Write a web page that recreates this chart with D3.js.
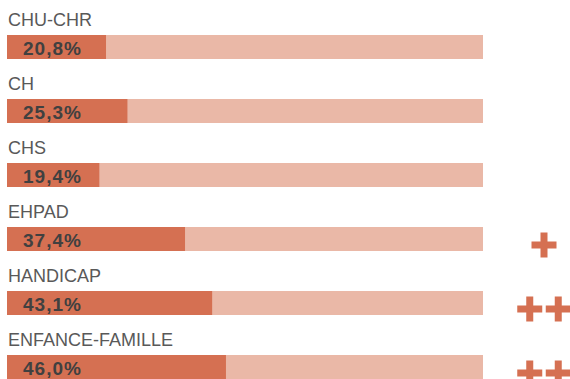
<!DOCTYPE html>
<html>
<head>
<meta charset="utf-8">
<script src="https://cdn.jsdelivr.net/npm/d3@7"></script>
<style>
  body { margin: 0; background: #fff; }
  svg { display: block; font-family: 'Liberation Sans', Arial, sans-serif; }
</style>
</head>
<body>
<div id="chart"></div>
<script>
// data
var categories = ['CHU-CHR', 'CH', 'CHS', 'EHPAD', 'HANDICAP', 'ENFANCE-FAMILLE'];
var values = [20.8, 25.3, 19.4, 37.4, 43.1, 46.0];
var valueLabels = ['20,8%', '25,3%', '19,4%', '37,4%', '43,1%', '46,0%'];
var trends = [0, 0, 0, 1, 2, 2]; // number of "+" marks

var W = 570, H = 379;
var darkColor = '#d57052', lightColor = '#eab8a7';
var barH = 24;

var svg = d3.select('#chart').append('svg')
  .attr('width', W)
  .attr('height', H);

var x = d3.scaleLinear().domain([0, 100]).range([7, 483]);
var y = d3.scaleLinear().domain([0, categories.length - 1]).range([35, 355]);

var rows = svg.selectAll('g.row')
  .data(categories)
  .enter().append('g')
  .attr('class', 'row')
  .attr('transform', function(d, i) { return 'translate(0,' + y(i) + ')'; });

// category label
rows.append('text')
  .attr('x', 8)
  .attr('y', -9)
  .attr('font-size', 18)
  .style('fill', '#595959')
  .text(function(d) { return d; });

// background bar (100%)
rows.append('rect')
  .attr('x', x(0))
  .attr('y', 0)
  .attr('width', x(100) - x(0))
  .attr('height', barH)
  .style('fill', lightColor);

// value bar
rows.append('rect')
  .attr('x', x(0))
  .attr('y', 0)
  .attr('width', function(d, i) { return x(values[i]) - x(0); })
  .attr('height', barH)
  .style('fill', darkColor);

// value text
rows.append('text')
  .attr('x', 23)
  .attr('y', 19.5)
  .attr('font-size', 19)
  .attr('font-weight', 'bold')
  .attr('letter-spacing', 1)
  .style('fill', '#404040')
  .text(function(d, i) { return valueLabels[i]; });

// trend "+" marks, centred around x=544
var plusSize = 25, plusThick = 7, plusStep = 28.5, plusCx = 544;
rows.each(function(d, i) {
  var n = trends[i];
  var g = d3.select(this);
  for (var k = 0; k < n; k++) {
    var cx = plusCx + (k - (n - 1) / 2) * plusStep;
    var cy = barH / 2 + 6;
    g.append('rect')
      .attr('x', cx - plusSize / 2).attr('y', cy - plusThick / 2)
      .attr('width', plusSize).attr('height', plusThick)
      .style('fill', darkColor);
    g.append('rect')
      .attr('x', cx - plusThick / 2).attr('y', cy - plusSize / 2)
      .attr('width', plusThick).attr('height', plusSize)
      .style('fill', darkColor);
  }
});
</script>
</body>
</html>
